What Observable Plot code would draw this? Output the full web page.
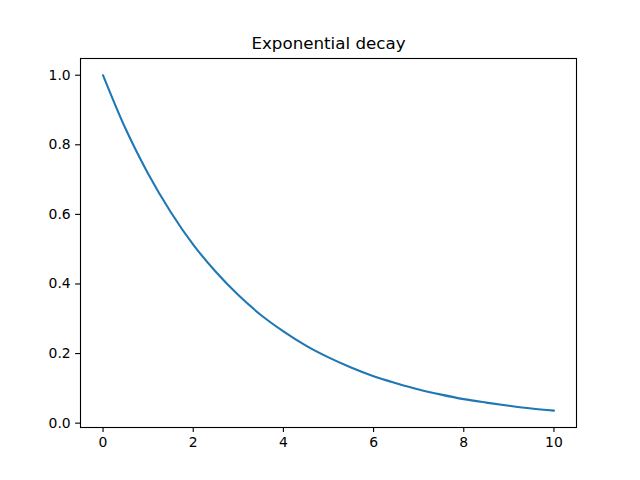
<!DOCTYPE html>
<html>
<head>
<meta charset="utf-8">
<script src="https://cdn.jsdelivr.net/npm/d3@7"></script>
<script src="https://cdn.jsdelivr.net/npm/@observablehq/plot@0.6"></script>
<style>
  html, body { margin: 0; padding: 0; background: #fff; }
  svg { display: block; }
</style>
</head>
<body>
<div id="chart"></div>
<script>
const title = "Exponential decay";
const xValues = [0, 0.5, 1, 1.5, 2, 2.5, 3, 3.5, 4, 4.5, 5, 5.5, 6, 6.5, 7, 7.5, 8, 8.5, 9, 9.5, 10];
const yValues = [1.000, 0.846, 0.717, 0.607, 0.513, 0.435, 0.368, 0.311, 0.264, 0.223, 0.189, 0.160, 0.135, 0.115, 0.097, 0.082, 0.069, 0.059, 0.050, 0.042, 0.036];
const xTicks = [0, 2, 4, 6, 8, 10];
const yTicks = [0.0, 0.2, 0.4, 0.6, 0.8, 1.0];

const data = xValues.map((x, i) => ({x, y: yValues[i]}));

const chart = Plot.plot({
  width: 640,
  height: 480,
  marginLeft: 80,
  marginRight: 64,
  marginTop: 58,
  marginBottom: 53,
  style: {fontFamily: "DejaVu Sans", fontSize: "13.9px", color: "#000", background: "#fff"},
  x: {domain: [-0.5, 10.5], ticks: xTicks, tickFormat: d => String(d), tickSize: 4.9, tickPadding: 4.9, label: null},
  y: {domain: [-0.0125, 1.048], ticks: yTicks, tickFormat: d => d.toFixed(1), tickSize: 4.9, tickPadding: 4.9, label: null},
  marks: [
    Plot.line(data, {x: "x", y: "y", stroke: "#1f77b4", strokeWidth: 2.08, curve: "monotone-x"}),
    Plot.frame({stroke: "#000", strokeWidth: 1.1}),
    Plot.axisX({ticks: xTicks, tickFormat: d => String(d), tickSize: 4.9, tickPadding: 4.9, label: null, strokeWidth: 1.1}),
    Plot.axisY({ticks: yTicks, tickFormat: d => d.toFixed(1), tickSize: 4.9, tickPadding: 4.9, label: null, strokeWidth: 1.1}),
    Plot.text([title], {frameAnchor: "top", dy: -10, lineAnchor: "bottom", fontSize: 16.7, text: d => d, fill: "#000"})
  ]
});
document.getElementById("chart").appendChild(chart);
</script>
</body>
</html>
